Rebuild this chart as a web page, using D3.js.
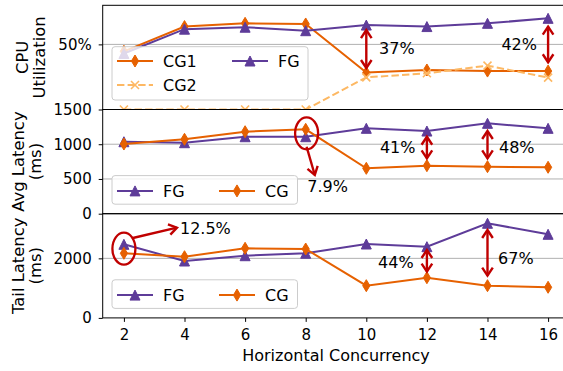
<!DOCTYPE html>
<html>
<head>
<meta charset="utf-8">
<script src="https://cdn.jsdelivr.net/npm/d3@7/dist/d3.min.js"></script>
<style>
  html, body { margin: 0; padding: 0; background: #fff; }
  svg { display: block; }
  text { font-family: "DejaVu Sans", sans-serif; }
</style>
</head>
<body>
<svg id="chart" width="563" height="371"></svg>
<script>
// ---------------- DATA ----------------
const concurrency = [2, 4, 6, 8, 10, 12, 14, 16];
const xTickValues = [2, 4, 6, 8, 10, 12, 14, 16];

// CPU utilization (fraction)
const cpuCG1 = [0.468, 0.582, 0.597, 0.594, 0.370, 0.382, 0.377, 0.377];
const cpuCG2 = [0.200, 0.200, 0.200, 0.200, 0.348, 0.367, 0.402, 0.347];
const cpuFG  = [0.458, 0.570, 0.579, 0.563, 0.589, 0.582, 0.597, 0.620];

// Average latency (ms)
const avgFG = [1036, 1022, 1108, 1108, 1229, 1190, 1301, 1229];
const avgCG = [1003, 1071, 1180, 1215, 653, 691, 677, 668];

// Tail latency (ms)
const tailFG = [2472, 1911, 2089, 2170, 2482, 2392, 3178, 2808];
const tailCG = [2170, 2056, 2338, 2314, 1082, 1350, 1082, 1028];

const cpuTicks = [0.5];
const avgTicks = [0, 500, 1000, 1500];
const tailTicks = [0, 2000];

// ---------------- STYLE ----------------
const PURPLE = "#5e3c99", ORANGE = "#e66101", LIGHT = "#fdb863", RED = "#c00000";
const svg = d3.select("#chart");
const plotLeft = 102.7, plotRight = 569.3;
const panelH = 104.2;
const panelTops = [5.3, 109.5, 213.7];

const x = d3.scaleLinear().domain([1.3, 16.7]).range([plotLeft, plotRight]);

const markers = {
  tri: "M0,-5L5,5L-5,5Z",
  dia: "M0,-6L3.6,0L0,6L-3.6,0Z",
  x: "M-4,-4L4,4M-4,4L4,-4"
};

const panels = [
  {
    domain: [0.2, 0.68], ticks: cpuTicks, fmt: d => Math.round(d * 100) + "%",
    label: ["CPU", "Utilization"], labelX: [28.4, 45],
    series: [
      { name: "CG1", values: cpuCG1, color: ORANGE, marker: "dia" },
      { name: "CG2", values: cpuCG2, color: LIGHT, marker: "x", dash: "7.4,3.2" },
      { name: "FG", values: cpuFG, color: PURPLE, marker: "tri" }
    ],
    legendCols: [["CG1", "CG2"], ["FG"]],
    legendW: 196, colX: [0, 115]
  },
  {
    domain: [0, 1500], ticks: avgTicks, fmt: d3.format("d"),
    label: ["Avg Latency", "(ms)"], labelX: [23.5, 41.3],
    series: [
      { name: "FG", values: avgFG, color: PURPLE, marker: "tri" },
      { name: "CG", values: avgCG, color: ORANGE, marker: "dia" }
    ],
    legendCols: [["FG"], ["CG"]],
    legendW: 185.5, colX: [0, 102]
  },
  {
    domain: [0, 3500], ticks: tailTicks, fmt: d3.format("d"),
    label: ["Tail Latency", "(ms)"], labelX: [23.5, 41.3],
    series: [
      { name: "FG", values: tailFG, color: PURPLE, marker: "tri" },
      { name: "CG", values: tailCG, color: ORANGE, marker: "dia" }
    ],
    legendCols: [["FG"], ["CG"]],
    legendW: 185.5, colX: [0, 102]
  }
];

// annotations in data coordinates
const doubleArrows = [
  { panel: 0, x: 10, y1: 0.566, y2: 0.391 },
  { panel: 0, x: 16, y1: 0.582, y2: 0.4175 },
  { panel: 1, x: 12, y1: 1108, y2: 797 },
  { panel: 1, x: 14, y1: 1190, y2: 797 },
  { panel: 2, x: 12, y1: 2281, y2: 1552 },
  { panel: 2, x: 14, y1: 2953, y2: 1418 }
];
const labels = [
  { panel: 0, x: 10.42, y: 0.456, text: "37%" },
  { panel: 0, x: 14.46, y: 0.472, text: "42%" },
  { panel: 1, x: 8.05, y: 308, text: "7.9%" },
  { panel: 1, x: 10.45, y: 878, text: "41%" },
  { panel: 1, x: 14.38, y: 878, text: "48%" },
  { panel: 2, x: 3.85, y: 2808, text: "12.5%" },
  { panel: 2, x: 10.39, y: 1666, text: "44%" },
  { panel: 2, x: 14.35, y: 1800, text: "67%" }
];
const ellipses = [
  { panel: 1, x: 8.03, y: 1157 },
  { panel: 2, x: 2, y: 2325 }
];
const singleArrows = [
  { panel: 1, x1: 8.03, y1: 964, x2: 8.3, y2: 557 },
  { panel: 2, x1: 2.26, y1: 2674, x2: 3.75, y2: 3030 }
];

const defs = svg.append("defs");
const yScales = [];

panels.forEach((p, i) => {
  const top = panelTops[i], bottom = top + panelH;
  const y = d3.scaleLinear().domain(p.domain).range([bottom, top]);
  yScales.push(y);
  const g = svg.append("g");

  defs.append("clipPath").attr("id", "clip" + i)
    .append("rect").attr("x", plotLeft).attr("y", top)
    .attr("width", plotRight - plotLeft).attr("height", panelH);

  // grid
  g.selectAll(".grid").data(p.ticks.filter(t => t > p.domain[0] && t < p.domain[1]))
    .join("line")
    .attr("x1", plotLeft).attr("x2", plotRight)
    .attr("y1", d => y(d)).attr("y2", d => y(d))
    .attr("stroke", "#b0b0b0").attr("stroke-width", 1);

  // series
  const sg = g.append("g").attr("clip-path", `url(#clip${i})`);
  p.series.forEach(s => {
    const pts = concurrency.map((c, j) => [x(c), y(s.values[j])]);
    sg.append("path").attr("d", d3.line()(pts))
      .attr("fill", "none").attr("stroke", s.color).attr("stroke-width", 2)
      .attr("stroke-dasharray", s.dash || null);
    sg.selectAll(null).data(pts).join("path")
      .attr("transform", d => `translate(${d[0]},${d[1]})`)
      .attr("d", markers[s.marker])
      .attr("fill", s.marker === "x" ? "none" : s.color)
      .attr("stroke", s.color)
      .attr("stroke-width", s.marker === "x" ? 1.6 : 1);
  });

  // y axis
  const ax = g.append("g").attr("transform", `translate(${plotLeft},0)`)
    .call(d3.axisLeft(y).tickValues(p.ticks).tickFormat(p.fmt).tickSize(4).tickPadding(7));
  ax.select(".domain").remove();
  ax.selectAll("text").attr("font-size", 15).attr("fill", "#000")
    .style("font-family", "DejaVu Sans");
  ax.selectAll("line").attr("stroke", "#000");

  // frame
  g.append("rect").attr("x", plotLeft).attr("y", top)
    .attr("width", plotRight - plotLeft).attr("height", panelH)
    .attr("fill", "none").attr("stroke", "#000").attr("stroke-width", 1);

  // y label
  const cy = (top + bottom) / 2;
  p.label.forEach((t, k) => {
    svg.append("text").attr("transform", `translate(${p.labelX[k]},${cy}) rotate(-90)`)
      .attr("text-anchor", "middle").attr("font-size", 16.4).text(t);
  });

  // legend
  const rows = d3.max(p.legendCols, c => c.length);
  const lx = plotLeft + 9.3, lb = bottom - 9.5;
  const lh = rows === 2 ? 53.3 : 28.6;
  const lt = lb - lh;
  const lg = svg.append("g").attr("class", "legend" + i);
  lg.append("rect").attr("x", lx).attr("y", lt).attr("width", p.legendW).attr("height", lh)
    .attr("rx", 3).attr("fill", "#fff").attr("fill-opacity", 0.8)
    .attr("stroke", "#cccccc").attr("stroke-width", 1);
  p.legendCols.forEach((col, ci) => {
    col.forEach((name, ri) => {
      const s = p.series.find(q => q.name === name);
      const cyL = lt + (rows === 2 ? 14.3 : 15.3) + ri * 24;
      const hx = lx + 5 + p.colX[ci];
      lg.append("line").attr("x1", hx).attr("x2", hx + 36).attr("y1", cyL).attr("y2", cyL)
        .attr("stroke", s.color).attr("stroke-width", 2).attr("stroke-dasharray", s.dash || null);
      lg.append("path").attr("transform", `translate(${hx + 18},${cyL})`)
        .attr("d", markers[s.marker])
        .attr("fill", s.marker === "x" ? "none" : s.color)
        .attr("stroke", s.color).attr("stroke-width", s.marker === "x" ? 1.6 : 1);
      lg.append("text").attr("x", hx + 46).attr("y", cyL + 5.8)
        .attr("font-size", 16).text(name);
    });
  });
});

// x axis on bottom panel
const xa = svg.append("g").attr("transform", `translate(0,${panelTops[2] + panelH})`)
  .call(d3.axisBottom(x).tickValues(xTickValues).tickFormat(d3.format("d")).tickSize(4).tickPadding(7));
xa.select(".domain").remove();
xa.selectAll("text").attr("font-size", 15).attr("fill", "#000").style("font-family", "DejaVu Sans");
xa.selectAll("line").attr("stroke", "#000");

svg.append("text").attr("x", (plotLeft + plotRight) / 2).attr("y", 361)
  .attr("text-anchor", "middle").attr("font-size", 16).text("Horizontal Concurrency");

// ---------------- ANNOTATIONS ----------------
const ann = svg.append("g");
function chevron(tipX, tipY, ang) {
  const L = 8, Wd = 5.3;
  const bx = tipX - L * Math.cos(ang), by = tipY - L * Math.sin(ang);
  const px = -Math.sin(ang) * Wd, py = Math.cos(ang) * Wd;
  ann.append("path")
    .attr("d", `M${bx + px},${by + py}L${tipX},${tipY}L${bx - px},${by - py}`)
    .attr("fill", "none").attr("stroke", RED).attr("stroke-width", 2.4)
    .attr("stroke-linejoin", "miter");
}
function arrow(x1, y1, x2, y2, both) {
  ann.append("line").attr("x1", x1).attr("y1", y1).attr("x2", x2).attr("y2", y2)
    .attr("stroke", RED).attr("stroke-width", 2.4);
  const ang = Math.atan2(y2 - y1, x2 - x1);
  chevron(x2, y2, ang);
  if (both) chevron(x1, y1, ang + Math.PI);
}
doubleArrows.forEach(a => {
  const y = yScales[a.panel];
  arrow(x(a.x), y(a.y1), x(a.x), y(a.y2), true);
});
singleArrows.forEach(a => {
  const y = yScales[a.panel];
  arrow(x(a.x1), y(a.y1), x(a.x2), y(a.y2), false);
});
ellipses.forEach(e => {
  const y = yScales[e.panel];
  ann.append("ellipse").attr("cx", x(e.x)).attr("cy", y(e.y))
    .attr("rx", 11.5).attr("ry", 16)
    .attr("fill", "none").attr("stroke", RED).attr("stroke-width", 2.3);
});
labels.forEach(l => {
  const y = yScales[l.panel];
  ann.append("text").attr("x", x(l.x)).attr("y", y(l.y))
    .attr("font-size", 16).attr("fill", "#000").text(l.text);
});
</script>
</body>
</html>
